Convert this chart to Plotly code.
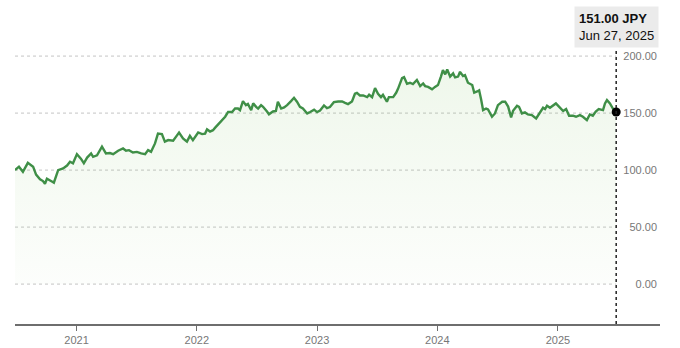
import plotly.graph_objects as go

# Weekly-ish closing prices (JPY)
dates = [
    "2020-06-28", "2020-07-10", "2020-07-22", "2020-08-06", "2020-08-22", "2020-08-31",
    "2020-09-12", "2020-09-21", "2020-09-27", "2020-10-03", "2020-10-18", "2020-10-24",
    "2020-11-06", "2020-11-21", "2020-12-03", "2020-12-12", "2020-12-21", "2021-01-02",
    "2021-01-14", "2021-01-23", "2021-02-02", "2021-02-14", "2021-02-20", "2021-03-04",
    "2021-03-19", "2021-03-31", "2021-04-12", "2021-04-22", "2021-05-07", "2021-05-22",
    "2021-05-31", "2021-06-09", "2021-06-21", "2021-07-03", "2021-07-16", "2021-07-28",
    "2021-08-06", "2021-08-15", "2021-08-27", "2021-09-05", "2021-09-17", "2021-09-26",
    "2021-10-06", "2021-10-21", "2021-10-30", "2021-11-08", "2021-11-20", "2021-12-02",
    "2021-12-11", "2021-12-20", "2022-01-05", "2022-01-17", "2022-01-26", "2022-02-01",
    "2022-02-10", "2022-02-19", "2022-02-25", "2022-03-06", "2022-03-18", "2022-03-28",
    "2022-04-06", "2022-04-18", "2022-04-27", "2022-05-06", "2022-05-12", "2022-05-21",
    "2022-05-30", "2022-06-05", "2022-06-15", "2022-06-21", "2022-06-30", "2022-07-06",
    "2022-07-15", "2022-07-21", "2022-08-02", "2022-08-08", "2022-08-20", "2022-08-29",
    "2022-09-04", "2022-09-14", "2022-09-23", "2022-10-02", "2022-10-14", "2022-10-23",
    "2022-11-01", "2022-11-10", "2022-11-19", "2022-12-02", "2022-12-11", "2022-12-23",
    "2023-01-01", "2023-01-10", "2023-01-22", "2023-01-31", "2023-02-09", "2023-02-21",
    "2023-03-06", "2023-03-18", "2023-03-27", "2023-04-05", "2023-04-17", "2023-04-26",
    "2023-05-02", "2023-05-11", "2023-05-21", "2023-06-02", "2023-06-08", "2023-06-17",
    "2023-06-26", "2023-07-05", "2023-07-14", "2023-07-20", "2023-08-01", "2023-08-07",
    "2023-08-20", "2023-08-29", "2023-09-04", "2023-09-16", "2023-09-22", "2023-10-01",
    "2023-10-10", "2023-10-19", "2023-10-31", "2023-11-10", "2023-11-19", "2023-11-25",
    "2023-12-04", "2023-12-16", "2023-12-25", "2024-01-03", "2024-01-12", "2024-01-18",
    "2024-01-25", "2024-01-31", "2024-02-09", "2024-02-18", "2024-02-24", "2024-03-04",
    "2024-03-10", "2024-03-19", "2024-03-25", "2024-04-03", "2024-04-16", "2024-04-22",
    "2024-05-01", "2024-05-07", "2024-05-13", "2024-05-19", "2024-05-28", "2024-06-03",
    "2024-06-15", "2024-06-24", "2024-07-03", "2024-07-16", "2024-07-25", "2024-08-03",
    "2024-08-12", "2024-08-18", "2024-08-30", "2024-09-05", "2024-09-14", "2024-09-23",
    "2024-10-02", "2024-10-14", "2024-10-27", "2024-11-05", "2024-11-17", "2024-11-23",
    "2024-11-29", "2024-12-08", "2024-12-17", "2024-12-26", "2025-01-05", "2025-01-17",
    "2025-01-26", "2025-02-04", "2025-02-16", "2025-02-25", "2025-03-09", "2025-03-18",
    "2025-03-30", "2025-04-08", "2025-04-17", "2025-04-26", "2025-05-05", "2025-05-18",
    "2025-05-24", "2025-05-30", "2025-06-08", "2025-06-17", "2025-06-27",
]
prices = [
    100.0, 103.0, 98.5, 106.4, 103.0, 96.0,
    92.0, 90.4, 88.0, 92.4, 90.0, 89.0,
    100.0, 101.5, 104.0, 107.3, 106.0, 114.0,
    110.0, 106.0, 111.0, 114.6, 111.7, 113.0,
    120.5, 114.6, 115.0, 114.0, 117.0, 119.0,
    117.0, 117.5, 115.5, 116.0, 114.6, 114.0,
    117.5, 116.0, 123.4, 132.0, 131.6, 125.0,
    126.3, 125.7, 129.4, 133.0, 127.8, 125.0,
    130.0, 126.3, 133.0, 131.6, 132.0, 135.7,
    133.8, 135.0, 137.0, 140.0, 143.9, 146.8,
    151.0, 151.0, 154.0, 154.0, 152.6, 160.5,
    157.0, 158.0, 152.6, 158.5, 155.5, 154.0,
    157.0, 155.5, 151.4, 149.0, 151.4, 151.8,
    160.0, 154.0, 155.0, 157.0, 160.5, 163.4,
    160.0, 155.5, 154.0, 149.7, 151.0, 153.0,
    150.9, 152.3, 156.7, 154.4, 155.3, 159.6,
    160.2, 160.2, 159.0, 157.9, 160.2, 167.0,
    167.8, 165.5, 165.5, 164.0, 166.1, 164.0,
    172.0, 167.0, 164.0, 166.0, 160.0, 164.0,
    164.0, 167.8, 171.5, 180.7, 181.6, 175.7,
    176.6, 175.4, 179.0, 173.7, 176.0, 173.7,
    173.0, 170.8, 173.0, 174.6, 182.0, 187.7,
    184.0, 188.3, 182.0, 184.8, 181.3, 182.0,
    186.2, 182.5, 183.3, 176.6, 174.6, 168.0,
    169.0, 170.0, 162.0, 152.6, 154.0, 153.2,
    146.8, 149.7, 157.0, 160.0, 160.0, 155.7,
    146.2, 152.0, 156.4, 155.5, 149.7, 150.6,
    148.8, 148.2, 145.3, 149.7, 154.7, 153.5,
    156.4, 154.7, 157.0, 158.5, 155.5, 151.8,
    153.5, 147.7, 147.7, 146.8, 148.2, 146.8,
    143.9, 148.8, 147.7, 151.4, 153.5, 152.6,
    158.5, 161.4, 158.5, 154.0, 151.0,
]
currency = "JPY"
last_label = "Jun 27, 2025"
y_ticks = [0, 50, 100, 150, 200]
x_ticks = ["2021-01-01", "2022-01-01", "2023-01-01", "2024-01-01", "2025-01-01"]
x_tick_text = ["2021", "2022", "2023", "2024", "2025"]

LINE = "#3f8f47"
FONT = "Liberation Sans, Arial, sans-serif"

fig = go.Figure()

fig.add_trace(go.Scatter(
    x=dates, y=prices, mode="lines",
    line=dict(color=LINE, width=2.4),
    fill="tozeroy",
    fillgradient=dict(
        type="vertical",
        colorscale=[[0, "rgba(120,190,90,0.02)"], [1, "rgba(120,190,90,0.12)"]],
    ),
    hoverinfo="skip",
))

# Last-point marker
fig.add_trace(go.Scatter(
    x=[dates[-1]], y=[prices[-1]], mode="markers",
    marker=dict(color="#000000", size=9),
    hoverinfo="skip",
))

# Dotted horizontal gridlines stopping at the latest date
for t in y_ticks:
    fig.add_shape(type="line", xref="x", yref="y",
                  x0="2020-06-28", x1=dates[-1], y0=t, y1=t,
                  line=dict(color="#c4c4c4", width=1, dash="dot"), layer="below")

# Dotted cursor line at the latest date
fig.add_shape(type="line", xref="x", yref="paper",
              x0=dates[-1], x1=dates[-1], y0=0, y1=1,
              line=dict(color="#222222", width=1.5, dash="dot"))

fig.add_annotation(
    x=dates[-1], y=1, xref="x", yref="paper",
    xanchor="center", yanchor="bottom", showarrow=False,
    text=f"<b>{prices[-1]:.2f} {currency}</b><br>{last_label}",
    align="left", bgcolor="#ebebeb", borderpad=4,
    font=dict(family=FONT, size=13, color="#111111"),
)

fig.update_layout(
    width=680, height=348,
    margin=dict(l=15, r=20, t=48, b=24),
    paper_bgcolor="white", plot_bgcolor="white",
    showlegend=False,
    font=dict(family=FONT, size=11, color="#777777"),
    xaxis=dict(
        range=["2020-06-28", "2025-11-07"],
        tickvals=x_ticks, ticktext=x_tick_text,
        showgrid=False, zeroline=False, automargin=False,
        showline=True, linecolor="#6e6e6e", linewidth=2,
        ticks="outside", ticklen=5, tickcolor="#6e6e6e", tickwidth=1,
        tickfont=dict(size=11, color="#777777"),
    ),
    yaxis=dict(
        range=[-35, 207.1],
        side="right", ticklabelposition="inside", automargin=False,
        tickvals=y_ticks, tickformat=".2f",
        showgrid=False, zeroline=False, showline=False,
        tickfont=dict(size=11, color="#777777"),
    ),
)

fig.write_html("out.html")
